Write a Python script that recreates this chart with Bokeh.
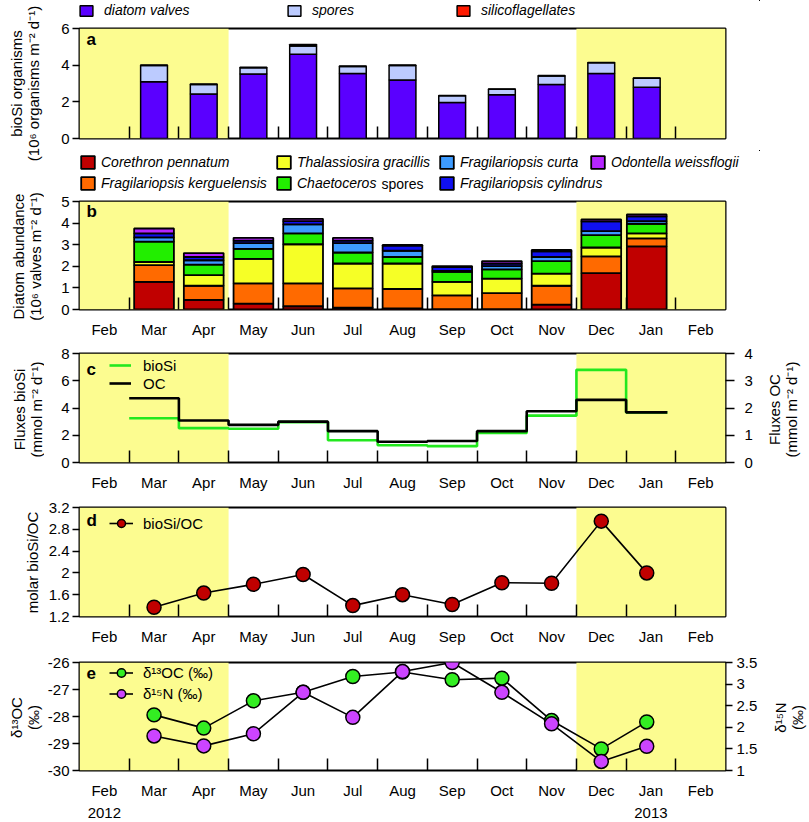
import math
from bokeh.plotting import figure
from bokeh.models import (Range1d, LinearAxis, FixedTicker, Legend, LegendItem,
                          Label, BoxAnnotation, CustomJSTickFormatter, ColumnDataSource)
from bokeh.layouts import column, row
from bokeh.embed import file_html
from bokeh.resources import INLINE

FONT = "Liberation Sans"
TOTAL_H = 822
LW, RW = 44, 49            # side strips holding the rotated axis titles
W = 809 - LW - RW          # width of the panel column
FL, FR = 34, 34
YEL = "#FCFC90"
OFF = -5000                # legend strips: window far away from the hidden swatch data

# ---------------- data ----------------
month_labels = ["Feb", "Mar", "Apr", "May", "Jun", "Jul", "Aug", "Sep", "Oct", "Nov", "Dec", "Jan", "Feb"]
year_labels = ["2012", "2013"]
year_months = [0, 11]          # index in month_labels under which each year is written
# sediment-trap cup periods, in months since 1 Feb 2012
cup_open = [1, 2, 3, 4, 5, 6, 7, 8, 9, 10, 11]
cup_close = [2, 3, 4, 5, 6, 7, 8, 9, 10, 11, 11.83]
summer_start = [0, 10]
summer_end = [3, 13]

# (a) bioSi organisms, 10^6 organisms m-2 d-1
diatom_valves = [3.10, 2.43, 3.52, 4.60, 3.55, 3.19, 1.97, 2.38, 2.94, 3.55, 2.79]
spores = [0.88, 0.52, 0.34, 0.45, 0.38, 0.79, 0.36, 0.31, 0.47, 0.58, 0.49]
silicoflagellates = [0.03, 0.02, 0.02, 0.08, 0.02, 0.03, 0.01, 0.01, 0.02, 0.02, 0.02]

# (b) diatom abundance, 10^6 valves m-2 d-1
corethron_pennatum = [1.28, 0.45, 0.27, 0.15, 0.08, 0.05, 0.02, 0.02, 0.23, 1.68, 2.92]
frag_kerguelensis = [0.77, 0.65, 0.94, 1.06, 0.90, 0.90, 0.63, 0.74, 0.87, 0.78, 0.37]
thalassiosira_gracillis = [0.15, 0.49, 1.13, 1.81, 1.15, 1.18, 0.63, 0.67, 0.56, 0.41, 0.23]
chaetoceros_spores = [0.94, 0.49, 0.47, 0.50, 0.51, 0.30, 0.46, 0.43, 0.58, 0.57, 0.45]
frag_curta = [0.20, 0.20, 0.26, 0.42, 0.43, 0.29, 0.05, 0.15, 0.19, 0.19, 0.12]
frag_cylindrus = [0.18, 0.15, 0.12, 0.15, 0.12, 0.24, 0.17, 0.12, 0.26, 0.45, 0.22]
odontella_weissflogii = [0.23, 0.18, 0.13, 0.11, 0.13, 0.03, 0.05, 0.11, 0.07, 0.09, 0.09]

# (c) fluxes, mmol m-2 d-1
biosi_flux = [3.25, 2.52, 2.48, 2.96, 1.63, 1.27, 1.20, 2.16, 3.44, 6.80, 3.68]
oc_flux = [2.36, 1.54, 1.38, 1.50, 1.15, 0.76, 0.79, 1.15, 1.88, 2.30, 1.84]

# (d) molar bioSi/OC
biosi_oc = [1.37, 1.63, 1.79, 1.97, 1.40, 1.60, 1.42, 1.82, 1.81, 2.95, 2.00]

# (e) isotopes
d13c = [-27.94, -28.43, -27.42, -27.10, -26.52, -26.35, -26.64, -26.58, -28.15, -29.20, -28.20]
d15n = [1.80, 1.57, 1.85, 2.81, 2.23, 3.29, 3.50, 2.81, 2.08, 1.21, 1.56]

mid = [(o + c) / 2 for o, c in zip(cup_open, cup_close)]
n_months = len(month_labels)

NUMFMT = "return String(parseFloat(tick.toFixed(2)));"

# ---------------- helpers ----------------
def style_yaxis(ya, tick_out, standoff):
    ya.axis_line_color = None
    ya.major_tick_out = tick_out
    ya.major_tick_in = 0
    ya.major_tick_line_width = 1.5
    ya.major_tick_line_color = "black"
    ya.minor_tick_line_color = None
    ya.major_label_standoff = standoff
    ya.major_label_text_font = FONT
    ya.major_label_text_font_size = "15px"
    ya.major_label_text_color = "black"


def base_fig(top, frame, bot, yr, yticks, show_months=True, label_standoff=11):
    p = figure(width=W, height=top + frame + bot, x_range=Range1d(0, n_months),
               y_range=Range1d(*yr), output_backend="svg", toolbar_location=None,
               min_border_left=FL, min_border_right=FR, min_border_top=top,
               min_border_bottom=bot)
    p.outline_line_color = "black"
    p.outline_line_width = 2
    p.xgrid.visible = False
    p.ygrid.visible = False
    for s, e in zip(summer_start, summer_end):
        p.add_layout(BoxAnnotation(left=s, right=e, fill_color=YEL, fill_alpha=1,
                                   line_color=None, level="underlay"))
    xa = p.xaxis[0]
    xa.ticker = FixedTicker(ticks=[i + 0.5 for i in range(n_months)],
                            minor_ticks=list(range(1, n_months)))
    labs = month_labels if show_months else [""] * n_months
    xa.formatter = CustomJSTickFormatter(args=dict(labels=labs),
                                         code="const i = Math.floor(tick); return labels[i] || '';")
    xa.axis_line_color = None
    xa.major_tick_line_color = None
    xa.major_tick_in = 0
    xa.major_tick_out = 0
    xa.minor_tick_line_color = "black"
    xa.minor_tick_line_width = 1.5
    xa.minor_tick_in = 12
    xa.minor_tick_out = 0
    xa.major_label_standoff = label_standoff
    xa.major_label_text_font = FONT
    xa.major_label_text_font_size = "15px"
    xa.major_label_text_color = "black"
    ya = p.yaxis[0]
    ya.ticker = FixedTicker(ticks=yticks)
    ya.formatter = CustomJSTickFormatter(code=NUMFMT)
    style_yaxis(ya, 7, 3)
    return p


def right_axis(p, rng, ticks, tick_out, standoff):
    ax = LinearAxis(y_range_name=rng, ticker=FixedTicker(ticks=ticks),
                    formatter=CustomJSTickFormatter(code=NUMFMT))
    style_yaxis(ax, tick_out, standoff)
    p.add_layout(ax, "right")


def letter(p, t, ytop, yoff):
    p.add_layout(Label(x=0, y=ytop, x_offset=7, y_offset=yoff, text=t, text_font=FONT,
                       text_font_style="bold", text_font_size="17px",
                       text_baseline="top", text_align="left", text_color="black"))


def make_legend(items, loc, gw, gh, standoff, spacing=0, italic=True, size="14px"):
    return Legend(items=items, location=loc, glyph_width=gw, glyph_height=gh,
                  label_height=gh, label_standoff=standoff, spacing=spacing,
                  padding=0, margin=0, border_line_color=None, background_fill_alpha=0,
                  label_text_font=FONT, label_text_font_size=size,
                  label_text_font_style="italic" if italic else "normal",
                  label_text_color="black")


def plain_fig(w, h, off=0):
    p = figure(width=w, height=h, x_range=Range1d(off, off + w), y_range=Range1d(off, off + h),
               x_axis_type=None, y_axis_type=None, output_backend="svg",
               toolbar_location=None, min_border=0, frame_align=False)
    p.outline_line_color = None
    p.xgrid.visible = False
    p.ygrid.visible = False
    return p


def vtitle(p, text, x, page_y):
    p.add_layout(Label(x=x, y=TOTAL_H - page_y, text=text, angle=math.pi / 2,
                       text_align="center", text_baseline="middle", text_font=FONT,
                       text_font_size="15px", text_line_height=1.0, text_color="black"))

# ---------------- panel a ----------------
a_colors = ["#5A00FF", "#BCCBFF", "#FF1A00"]
a_labels = ["diatom valves", "spores", "silicoflagellates"]
a_series = [diatom_valves, spores, silicoflagellates]
la = plain_fig(W, 19, OFF)
for c, lab, ser, xo in zip(a_colors, a_labels, a_series, [34, 242, 411]):
    r = la.vbar(x=mid, top=ser, width=0.5, fill_color=c, line_color="black", line_width=1.5)
    la.add_layout(make_legend([LegendItem(label=lab, renderers=[r])], (xo, 1), 16, 13, 10))

pa = base_fig(9, 110, 12, (0, 6), [0, 2, 4, 6], show_months=False, label_standoff=0)
src_a = ColumnDataSource(dict(x=mid, dv=diatom_valves, sp=spores, sf=silicoflagellates))
pa.vbar_stack(["dv", "sp", "sf"], x="x", width=0.54, source=src_a,
              fill_color=a_colors, line_color="black", line_width=1.5)
letter(pa, "a", 6, -1)

# ---------------- panel b ----------------
b_colors = ["#C00000", "#FF6A00", "#F6FF26", "#22EE00", "#3D9BFF", "#1010F0", "#B526FF"]
b_series = [corethron_pennatum, frag_kerguelensis, thalassiosira_gracillis,
            chaetoceros_spores, frag_curta, frag_cylindrus, odontella_weissflogii]
lb = plain_fig(W, 42, OFF)
cols = [[(0, "Corethron pennatum"), (1, "Fragilariopsis kerguelensis")],
        [(2, "Thalassiosira gracillis"), (3, "Chaetoceros")],
        [(4, "Fragilariopsis curta"), (5, "Fragilariopsis cylindrus")],
        [(6, "Odontella weissflogii")]]
for col, xo in zip(cols, [35, 231, 394, 545]):
    items = []
    for i, lab in col:
        r = lb.vbar(x=mid, top=b_series[i], width=0.5, fill_color=b_colors[i],
                    line_color="black", line_width=1.8)
        items.append(LegendItem(label=lab, renderers=[r]))
    yb = 1 if len(col) == 2 else 22
    lb.add_layout(make_legend(items, (xo, yb), 17, 16, 5, spacing=5))
lb.add_layout(Label(x=OFF + 337, y=OFF + 9, text="spores", text_font=FONT,
                    text_font_size="14px", text_baseline="middle", text_align="left",
                    text_color="black"))

pb = base_fig(9, 110, 29, (0, 5), [0, 1, 2, 3, 4, 5])
src_b = ColumnDataSource(dict(x=mid, cp=corethron_pennatum, fk=frag_kerguelensis,
                              tg=thalassiosira_gracillis, cs=chaetoceros_spores,
                              fc=frag_curta, fy=frag_cylindrus, ow=odontella_weissflogii))
pb.vbar_stack(["cp", "fk", "tg", "cs", "fc", "fy", "ow"], x="x", width=0.8, source=src_b,
              fill_color=b_colors, line_color="black", line_width=1.8)
letter(pb, "b", 5, 0)

# ---------------- panel c ----------------
pc = base_fig(13, 111, 29, (0, 8), [0, 2, 4, 6, 8])
pc.extra_y_ranges = {"oc": Range1d(0, 4)}
xs = cup_open + [cup_close[-1]]
r_bsi = pc.step(xs, biosi_flux + [biosi_flux[-1]], mode="after", line_color="#22E81E",
                line_width=2.6)
r_oc = pc.step(xs, oc_flux + [oc_flux[-1]], mode="after", line_color="black",
               line_width=2.6, y_range_name="oc")
right_axis(pc, "oc", [0, 1, 2, 3, 4], 9, 10)
pc.add_layout(make_legend([LegendItem(label="bioSi", renderers=[r_bsi]),
                           LegendItem(label="OC", renderers=[r_oc])],
                          (30, 70), 22, 18, 12, italic=False, size="15px"))
letter(pc, "c", 8, -6)

# ---------------- panel d ----------------
pd_ = base_fig(14, 110, 30, (1.2, 3.2), [1.2, 1.6, 2, 2.4, 2.8, 3.2])
r_dl = pd_.line(mid, biosi_oc, line_color="black", line_width=1.6)
r_dc = pd_.scatter(mid, biosi_oc, marker="circle", size=14, fill_color="#C00000",
                   line_color="black", line_width=1.5)
pd_.add_layout(make_legend([LegendItem(label="bioSi/OC", renderers=[r_dl, r_dc])],
                           (30, 83), 24, 20, 10, italic=False, size="15px"))
letter(pd_, "d", 3.2, -3)

# ---------------- panel e ----------------
pe = base_fig(15, 110, 29, (-30, -26), [-30, -29, -28, -27, -26])
pe.extra_y_ranges = {"n": Range1d(1, 3.5)}
r_cl = pe.line(mid, d13c, line_color="black", line_width=1.6)
r_nl = pe.line(mid, d15n, line_color="black", line_width=1.6, y_range_name="n")
r_cc = pe.scatter(mid, d13c, marker="circle", size=14, fill_color="#33EE22",
                  line_color="black", line_width=1.5)
r_nc = pe.scatter(mid, d15n, marker="circle", size=14, fill_color="#CC44FF",
                  line_color="black", line_width=1.5, y_range_name="n")
right_axis(pe, "n", [1, 1.5, 2, 2.5, 3, 3.5], 7, 4)
pe.add_layout(make_legend([LegendItem(label="\u03b4\u00b9\u00b3OC (\u2030)", renderers=[r_cl, r_cc]),
                           LegendItem(label="\u03b4\u00b9\u2075N (\u2030)", renderers=[r_nl, r_nc])],
                          (30, 66), 24, 21, 10, italic=False, size="15px"))
letter(pe, "e", -26, -4)

# year strip under panel e, on the same month scale
ys = figure(width=W, height=21, x_range=Range1d(0, n_months), y_range=Range1d(0, 21),
            x_axis_type=None, y_axis_type=None, output_backend="svg", toolbar_location=None,
            min_border_left=FL, min_border_right=FR, min_border_top=0, min_border_bottom=0)
ys.outline_line_color = None
ys.xgrid.visible = False
ys.ygrid.visible = False
for yl, mi in zip(year_labels, year_months):
    ys.add_layout(Label(x=mi + 0.5, y=10, text=yl, text_font=FONT, text_font_size="15px",
                        text_align="center", text_baseline="middle", text_color="black"))

# ---------------- axis titles (side strips) ----------------
lt = plain_fig(LW, TOTAL_H)
vtitle(lt, "bioSi organisms\n(10\u2076 organisms m\u207b\u00b2 d\u207b\u00b9)", 24, 83)
vtitle(lt, "Diatom abundance\n(10\u2076 valves m\u207b\u00b2 d\u207b\u00b9)", 26, 256)
vtitle(lt, "Fluxes bioSi\n(mmol m\u207b\u00b2 d\u207b\u00b9)", 27, 409)
vtitle(lt, "molar bioSi/OC", 32, 562)
vtitle(lt, "\u03b4\u00b9\u00b3OC\n(\u2030)", 24, 717)

rt = plain_fig(RW, TOTAL_H)
vtitle(rt, "Fluxes OC\n(mmol m\u207b\u00b2 d\u207b\u00b9)", 22.5, 409)
vtitle(rt, "\u03b4\u00b9\u2075N\n(\u2030)", 28.5, 717)

layout = row(lt, column(la, pa, lb, pb, pc, pd_, pe, ys, spacing=0), rt, spacing=0)
open("out.html", "w").write(file_html(layout, INLINE))
